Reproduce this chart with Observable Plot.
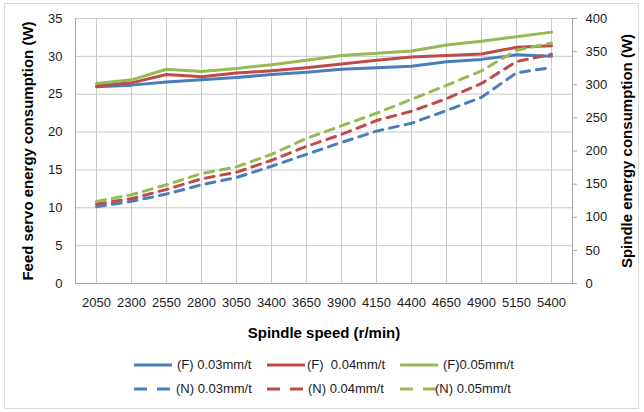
<!DOCTYPE html>
<html><head><meta charset="utf-8">
<script src="https://cdn.jsdelivr.net/npm/d3@7"></script>
<script src="https://cdn.jsdelivr.net/npm/@observablehq/plot@0.6"></script>
<style>
body{margin:0;background:#fff;}
#wrap{position:relative;width:644px;height:412px;overflow:hidden;font-family:"Liberation Sans",Arial,sans-serif;background:#fff;}
#border{position:absolute;left:4px;top:3px;width:635px;height:406px;border:1px solid #d9d9d9;box-sizing:border-box;}
#chart{position:absolute;left:0;top:0;}
.leg{position:absolute;font-size:13px;color:#1a1a1a;white-space:pre;line-height:16px;}
.sw{position:absolute;}
</style></head><body>
<div id="wrap"><div id="border"></div><div id="chart"></div><div id="legend"></div></div>
<script>
// ---- data ----
const speeds = ["2050","2300","2550","2800","3050","3400","3650","3900","4150","4400","4650","4900","5150","5400"];
// Feed servo energy consumption (W), left axis
const feed003 = [26.0,26.2,26.6,26.9,27.2,27.6,27.9,28.3,28.5,28.7,29.3,29.6,30.2,30.0];
const feed004 = [26.1,26.5,27.6,27.3,27.8,28.1,28.5,29.0,29.5,29.9,30.1,30.3,31.2,31.4];
const feed005 = [26.4,26.9,28.3,28.0,28.4,28.9,29.5,30.1,30.4,30.7,31.5,32.0,32.6,33.2];
// Spindle energy consumption (W), right axis
const spindle003 = [116,124,135,149,160,177,195,213,230,242,261,281,318,326];
const spindle004 = [120,128,142,158,168,186,207,225,246,260,279,302,335,346];
const spindle005 = [124,134,149,166,176,195,219,238,257,278,299,321,352,363];
const leftTicks = [0,5,10,15,20,25,30,35];
const rightTicks = [0,50,100,150,200,250,300,350,400];
const legendLabels = ["(F) 0.03mm/t","(F)  0.04mm/t","(F)0.05mm/t","(N) 0.03mm/t","(N) 0.04mm/t","(N) 0.05mm/t"];
const xTitle = "Spindle speed (r/min)";
const yLeftTitle = "Feed servo energy consumption (W)";
const yRightTitle = "Spindle energy consumption (W)";

// ---- styles ----
const blue = "#4A7EBB", red = "#BE4B48", green = "#98B954";
const dash = "9,7";
const k = 35 / 400; // right-axis unit -> left-axis unit

const series = [
  {label: legendLabels[0], vals: feed003, f: 1, color: blue, dash: null},
  {label: legendLabels[1], vals: feed004, f: 1, color: red, dash: null},
  {label: legendLabels[2], vals: feed005, f: 1, color: green, dash: null},
  {label: legendLabels[3], vals: spindle003, f: k, color: blue, dash: dash},
  {label: legendLabels[4], vals: spindle004, f: k, color: red, dash: dash},
  {label: legendLabels[5], vals: spindle005, f: k, color: green, dash: dash}
];

const gridColor = "#c9c9c9", axisColor = "#a6a6a6", textColor = "#1a1a1a";

const marks = [
  Plot.gridY({ticks: leftTicks, stroke: gridColor, strokeOpacity: 1}),
  Plot.gridX({stroke: gridColor, strokeOpacity: 1}),
  Plot.frame({anchor: "left", stroke: axisColor}),
  Plot.frame({anchor: "bottom", stroke: axisColor}),
  Plot.frame({anchor: "right", stroke: axisColor}),
  Plot.axisY({anchor: "left", ticks: leftTicks, tickSize: 0, tickPadding: 13, fontSize: 13, fill: textColor, label: null}),
  Plot.axisY({anchor: "right", ticks: rightTicks.map(v => v * k), tickFormat: d => d3.format(".0f")(d / k), tickSize: 4, tickPadding: 9, fontSize: 13, fill: textColor, stroke: axisColor, label: null}),
  Plot.axisX({tickSize: 0, tickPadding: 14, fontSize: 13, fill: textColor, label: null}),
  Plot.text([yLeftTitle], {text: d => d, frameAnchor: "left", dx: -47, rotate: -90, textAnchor: "middle", lineAnchor: "middle", fontWeight: "bold", fontSize: 15, fill: "#000"}),
  Plot.text([yRightTitle], {text: d => d, frameAnchor: "right", dx: 55, rotate: -90, textAnchor: "middle", lineAnchor: "middle", fontWeight: "bold", fontSize: 15, fill: "#000"}),
  Plot.text([xTitle], {text: d => d, frameAnchor: "bottom", dy: 50, textAnchor: "middle", lineAnchor: "middle", fontWeight: "bold", fontSize: 15, fill: "#000"})
];
for (const s of series) {
  const rows = speeds.map((sp, i) => ({speed: sp, y: s.vals[i] * s.f}));
  marks.push(Plot.lineY(rows, {x: "speed", y: "y", stroke: s.color, strokeWidth: 3, strokeDasharray: s.dash || undefined, strokeLinejoin: "round"}));
}

const chart = Plot.plot({
  width: 644,
  height: 345,
  marginLeft: 75,
  marginRight: 72,
  marginTop: 18,
  marginBottom: 62,
  style: {fontFamily: "'Liberation Sans', Arial, sans-serif", fontSize: "13px", background: "transparent"},
  x: {type: "point", domain: speeds, padding: 0.5},
  y: {domain: [0, 35]},
  marks
});
document.getElementById("chart").appendChild(chart);

// ---- legend ----
const legPos = [
  {x: 134, y: 365, tx: 177}, {x: 267, y: 365, tx: 307}, {x: 400, y: 365, tx: 443},
  {x: 134, y: 389, tx: 176}, {x: 267, y: 389, tx: 308}, {x: 400, y: 389, tx: 435}
];
const legend = document.getElementById("legend");
series.forEach((s, i) => {
  const p = legPos[i];
  const sw = document.createElementNS("http://www.w3.org/2000/svg", "svg");
  sw.setAttribute("class", "sw");
  sw.setAttribute("width", 40); sw.setAttribute("height", 6);
  sw.style.left = p.x + "px"; sw.style.top = (p.y - 3) + "px";
  const ln = document.createElementNS("http://www.w3.org/2000/svg", "line");
  ln.setAttribute("x1", 0); ln.setAttribute("x2", 38); ln.setAttribute("y1", 3); ln.setAttribute("y2", 3);
  ln.setAttribute("stroke", s.color); ln.setAttribute("stroke-width", 3);
  if (s.dash) ln.setAttribute("stroke-dasharray", "13,10");
  sw.appendChild(ln);
  legend.appendChild(sw);
  const t = document.createElement("div");
  t.className = "leg";
  t.textContent = s.label;
  t.style.left = p.tx + "px"; t.style.top = (p.y - 8) + "px";
  legend.appendChild(t);
});
</script>
</body></html>
